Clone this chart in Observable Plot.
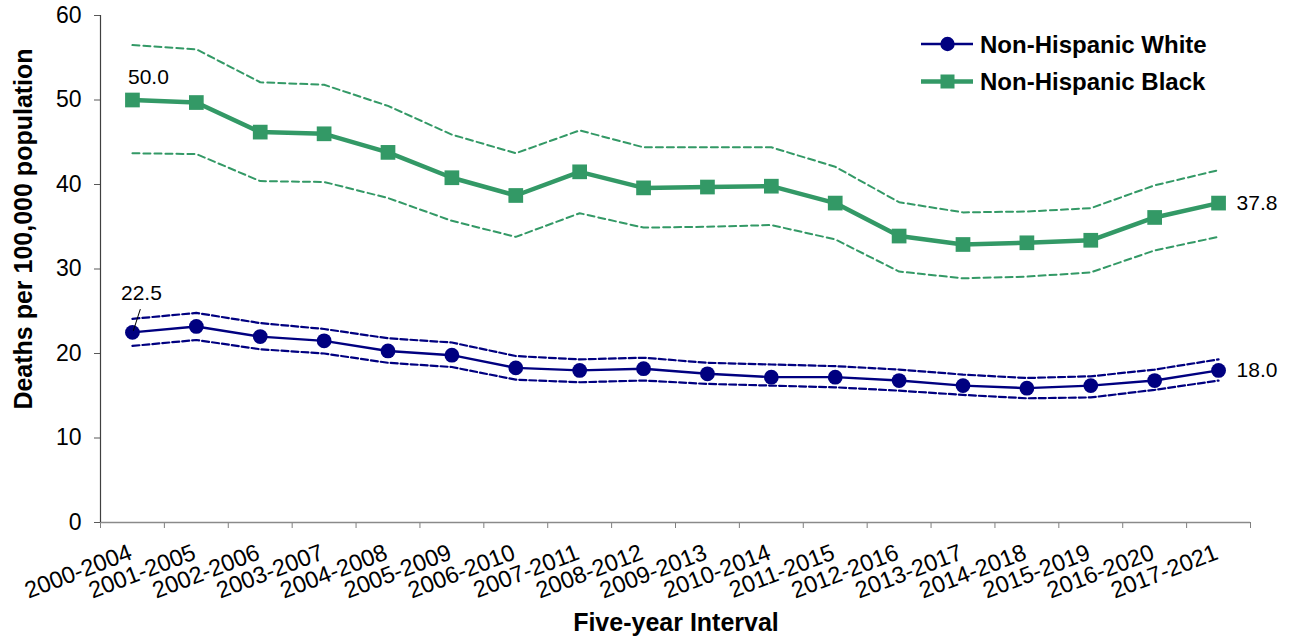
<!DOCTYPE html>
<html><head><meta charset="utf-8">
<script src="https://cdn.jsdelivr.net/npm/d3@7"></script>
<script src="https://cdn.jsdelivr.net/npm/@observablehq/plot@0.6"></script>
<style>
body{margin:0;background:#fff;}
#chart{position:relative;width:1292px;height:639px;}
</style>
</head><body><div id="chart"></div>
<script>
const categories = ["2000-2004","2001-2005","2002-2006","2003-2007","2004-2008","2005-2009","2006-2010","2007-2011","2008-2012","2009-2013","2010-2014","2011-2015","2012-2016","2013-2017","2014-2018","2015-2019","2016-2020","2017-2021"];
const whiteRate  = [22.5, 23.2, 22.0, 21.5, 20.3, 19.8, 18.3, 18.0, 18.2, 17.6, 17.2, 17.2, 16.8, 16.2, 15.9, 16.2, 16.8, 18.0];
const whiteUpper = [24.1, 24.8, 23.6, 22.9, 21.8, 21.3, 19.7, 19.3, 19.5, 18.9, 18.7, 18.5, 18.1, 17.5, 17.1, 17.3, 18.1, 19.3];
const whiteLower = [20.9, 21.6, 20.5, 20.0, 18.9, 18.4, 16.9, 16.6, 16.8, 16.4, 16.2, 16.0, 15.6, 15.1, 14.7, 14.8, 15.7, 16.8];
const blackRate  = [50.0, 49.7, 46.2, 46.0, 43.8, 40.8, 38.7, 41.5, 39.6, 39.7, 39.8, 37.8, 33.9, 32.9, 33.1, 33.4, 36.1, 37.8];
const blackUpper = [56.5, 56.0, 52.1, 51.8, 49.3, 45.9, 43.7, 46.4, 44.4, 44.4, 44.4, 42.1, 37.9, 36.7, 36.8, 37.2, 39.9, 41.7];
const blackLower = [43.7, 43.6, 40.4, 40.3, 38.4, 35.7, 33.8, 36.6, 34.9, 35.0, 35.2, 33.5, 29.7, 28.9, 29.1, 29.6, 32.2, 33.8];
const seriesNames = ["Non-Hispanic White", "Non-Hispanic Black"];
const yTicks = [0, 10, 20, 30, 40, 50, 60];
const xTitle = "Five-year Interval";
const yTitle = "Deaths per 100,000 population";

const NAVY = "#000080", GREEN = "#339966";
const FONT = "'Liberation Sans', Arial, Helvetica, sans-serif";
const fmt = d3.format(".1f");

const white = categories.map((c, i) => ({cat: c, i, v: whiteRate[i], lo: whiteLower[i], hi: whiteUpper[i]}));
const black = categories.map((c, i) => ({cat: c, i, v: blackRate[i], lo: blackLower[i], hi: blackUpper[i]}));
const xDomain = [-0.5, categories.length - 0.5];
const bounds = d3.range(categories.length + 1).map(k => k - 0.5);
const spike = {draw(ctx, l) { ctx.moveTo(0, 0); ctx.lineTo(0, -l); }};

const plot = Plot.plot({
  width: 1292, height: 639,
  marginLeft: 100, marginRight: 42, marginTop: 15, marginBottom: 117,
  style: {fontFamily: FONT, fontSize: "22px", color: "#000", background: "#fff", overflow: "visible"},
  x: {type: "linear", domain: xDomain},
  y: {domain: [0, 60]},
  marks: [
    Plot.axisY({ticks: yTicks, tickSize: 6, tickPadding: 13, label: null, fontSize: 23, stroke: "#595959", fill: "#000"}),
    Plot.axisX({ticks: bounds, tickSize: 6, tickFormat: () => "", label: null, stroke: "#7f7f7f"}),
    Plot.ruleY([0], {stroke: "#8a8a8a", strokeWidth: 1.3}),
    Plot.ruleX([xDomain[0]], {stroke: "#404040", strokeWidth: 1.2}),
    Plot.text(categories, {x: (d, i) => i, text: d => d, frameAnchor: "bottom", dy: 36, dx: 1, rotate: -21, textAnchor: "end", lineAnchor: "bottom", fontSize: 23.5, fill: "#000"}),
    // confidence bounds
    Plot.line(black, {x: "i", y: "hi", stroke: GREEN, strokeWidth: 2, strokeDasharray: "7,4"}),
    Plot.line(black, {x: "i", y: "lo", stroke: GREEN, strokeWidth: 2, strokeDasharray: "7,4"}),
    Plot.line(white, {x: "i", y: "hi", stroke: NAVY, strokeWidth: 2.2, strokeDasharray: "7,3"}),
    Plot.line(white, {x: "i", y: "lo", stroke: NAVY, strokeWidth: 2.2, strokeDasharray: "7,3"}),
    // main series
    Plot.line(black, {x: "i", y: "v", stroke: GREEN, strokeWidth: 4.5}),
    Plot.dot(black, {x: "i", y: "v", symbol: "square", r: 8.3, fill: GREEN, stroke: "none"}),
    Plot.line(white, {x: "i", y: "v", stroke: NAVY, strokeWidth: 2.4}),
    Plot.dot(white, {x: "i", y: "v", r: 7.4, fill: NAVY, stroke: "none"}),
    // value labels
    Plot.text([black[0]], {x: "i", y: "v", text: d => fmt(d.v), dx: 16, dy: -16, lineAnchor: "bottom", fontSize: 21, fill: "#000"}),
    Plot.text([white[0]], {x: "i", y: "v", text: d => fmt(d.v), dx: 9, dy: -32, lineAnchor: "bottom", fontSize: 21, fill: "#000"}),
    Plot.vector([white[0]], {x: "i", y: "v", length: 22, rotate: 18, anchor: "start", shape: spike, stroke: "#000", strokeWidth: 1, dx: 1, dy: -2}),
    Plot.text([black[black.length - 1], white[white.length - 1]], {x: "i", y: "v", text: d => fmt(d.v), dx: 18, textAnchor: "start", lineAnchor: "middle", fontSize: 21, fill: "#000"})
  ]
});

document.getElementById("chart").appendChild(plot);
const svg = d3.select(plot);

// axis titles
svg.append("text").attr("transform", "translate(32,229) rotate(-90)")
  .attr("text-anchor", "middle").attr("font-family", FONT).attr("font-weight", "bold")
  .attr("font-size", 25).attr("fill", "#000").text(yTitle);
svg.append("text").attr("x", 676).attr("y", 631)
  .attr("text-anchor", "middle").attr("font-family", FONT).attr("font-weight", "bold")
  .attr("font-size", 25).attr("fill", "#000").text(xTitle);

// legend
const leg = svg.append("g").attr("transform", "translate(921,44)");
const styles = [
  {color: NAVY, width: 2.4, shape: "circle"},
  {color: GREEN, width: 4.5, shape: "square"}
];
seriesNames.forEach((name, k) => {
  const g = leg.append("g").attr("transform", `translate(0,${k * 37.5})`);
  const s = styles[k];
  g.append("line").attr("x1", 0).attr("x2", 52).attr("y1", 0).attr("y2", 0)
    .attr("stroke", s.color).attr("stroke-width", s.width);
  if (s.shape === "circle") g.append("circle").attr("cx", 26.5).attr("cy", 0).attr("r", 7.2).attr("fill", s.color);
  else g.append("rect").attr("x", 19.5).attr("y", -7).attr("width", 14).attr("height", 14).attr("fill", s.color);
  g.append("text").attr("x", 59).attr("y", 8.5).attr("text-anchor", "start").attr("font-family", FONT).attr("font-weight", "bold")
    .attr("font-size", 24).attr("fill", "#000").text(name);
});
</script>
</body></html>
